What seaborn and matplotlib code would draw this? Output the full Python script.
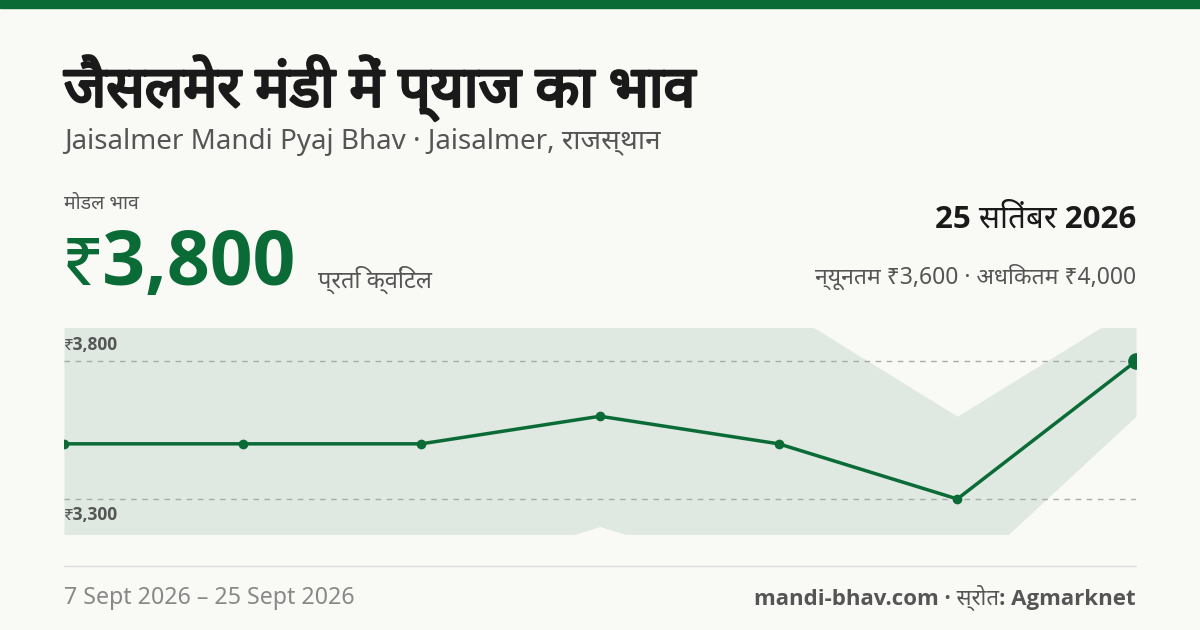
import matplotlib
matplotlib.use("Agg")
import matplotlib.pyplot as plt
import matplotlib.patheffects as pe
import seaborn as sns
import pandas as pd
from matplotlib import font_manager

sns.set_theme(style="white")
fl = font_manager.fontManager.ttflist
avail = {f.name for f in fl}
def has_bold(n):
    return any(f.name == n and str(f.weight) in ("700", "bold") for f in fl)
dev = [f for f in ["Noto Sans Devanagari", "Lohit Devanagari", "FreeSans"] if f in avail]
latin_bold = [f for f in ["Noto Sans", "Open Sans", "Roboto", "Lato", "DejaVu Sans"] if f in avail and has_bold(f)][:1]
devb = [f for f in dev if has_bold(f)] + dev
fams = [f for f in ["Noto Sans"] if f in avail] + dev + ["DejaVu Sans"]
bfams = latin_bold + devb + ["DejaVu Sans"]
plt.rcParams['font.family'] = fams

dates = ["7 Sept", "10 Sept", "13 Sept", "16 Sept", "19 Sept", "22 Sept", "25 Sept"]
modal = [3500, 3500, 3500, 3600, 3500, 3300, 3800]
minp = [3000, 3000, 3000, 3200, 3000, 3000, 3600]
maxp = [4000, 4000, 4000, 4000, 4000, 3600, 4000]

GREEN = "#0b6b37"
BG = "#f9f9f6"
W, H = 1200, 630
fig = plt.figure(figsize=(W/100, H/100), dpi=100, facecolor=BG)
fig.add_artist(plt.Rectangle((0, 1-8/H), 1, 8/H, color=GREEN, transform=fig.transFigure))

def t(x, y, s, bold=False, stroke=0, **kw):
    if bold:
        kw["family"] = bfams
        kw["fontweight"] = "bold"
    txt = fig.text(x/W, 1-y/H, s, **kw)
    if stroke:
        txt.set_path_effects([pe.withStroke(linewidth=stroke, foreground=kw.get("color", "k"))])

t(64, 88, "जैसलमेर मंडी में प्याज का भाव", bold=True, stroke=2.0, fontsize=41, color="#1a1a1a", va="center")
t(64, 142, "Jaisalmer Mandi Pyaj Bhav · Jaisalmer, राजस्थान", fontsize=20, color="#555555", va="center")
t(64, 204, "मोडल भाव", fontsize=14, color="#555555", va="center")
t(62, 265, "₹3,800", bold=True, fontsize=54, color=GREEN, va="center")
t(318, 280, "प्रति क्विंटल", fontsize=17, color="#555555", va="center")
t(1136, 220, "25 सितंबर 2026", bold=True, fontsize=22.5, color="#1a1a1a", va="center", ha="right")
t(1136, 277, "न्यूनतम ₹3,600 · अधिकतम ₹4,000", fontsize=16.5, color="#555555", va="center", ha="right")
t(64, 598, "7 Sept 2026 – 25 Sept 2026", fontsize=16.7, color="#888888", va="center")
t(1136, 598, "mandi-bhav.com · स्रोत: Agmarknet", bold=True, fontsize=16, color="#555555", va="center", ha="right")
fig.add_artist(plt.Line2D([64/W, 1136/W], [1-566/H, 1-566/H], color="#dddddd", lw=1))

ax = fig.add_axes([64/W, 1-534/H, (1136-64)/W, (534-328)/H])
ax.set_facecolor("none")
df = pd.DataFrame({"i": range(len(dates)), "modal": modal, "min": minp, "max": maxp})
ax.fill_between(df["i"], df["min"], df["max"], color="#dfe9e2", lw=0)
for v in [3800, 3300]:
    ax.axhline(v, color="#aaaaaa", lw=1, ls=(0, (4, 4)))
sns.lineplot(data=df, x="i", y="modal", ax=ax, color=GREEN, lw=2.5, marker="o", markersize=7, markeredgewidth=0)
ax.plot(df["i"].iloc[-1], modal[-1], "o", color=GREEN, markersize=11)
ax.set_xlim(0, len(dates)-1)
ax.set_ylim(3173, 3920)
ax.axis("off")
ax.text(0.001, 3800+25, "₹3,800", fontsize=12.5, fontweight="bold", family=bfams, color="#555555", va="bottom")
ax.text(0.001, 3300-25, "₹3,300", fontsize=12.5, fontweight="bold", family=bfams, color="#555555", va="top")
fig.savefig("out.png", dpi=100, facecolor=BG)
